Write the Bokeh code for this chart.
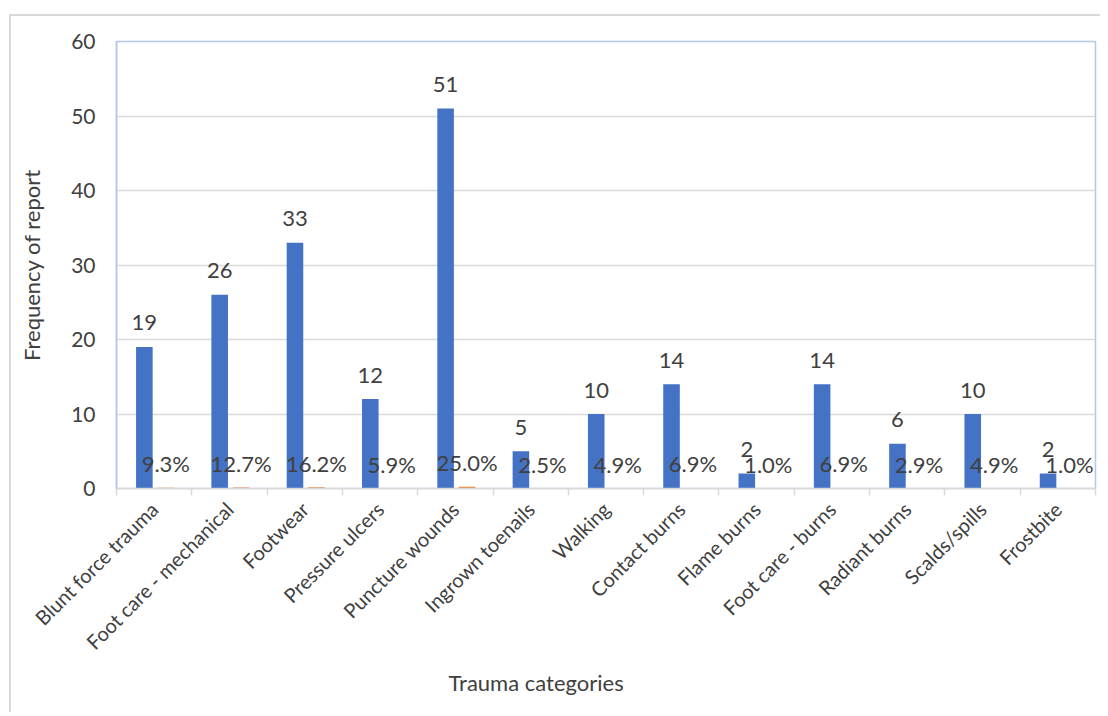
import math
from bokeh.plotting import figure
from bokeh.models import Range1d, FixedTicker, ColumnDataSource, Title
from bokeh.core.properties import value
from bokeh.embed import file_html
from bokeh.resources import INLINE

categories = ["Blunt force trauma", "Foot care - mechanical", "Footwear", "Pressure ulcers",
              "Puncture wounds", "Ingrown toenails", "Walking", "Contact burns", "Flame burns",
              "Foot care - burns", "Radiant burns", "Scalds/spills", "Frostbite"]
counts = [19, 26, 33, 12, 51, 5, 10, 14, 2, 14, 6, 10, 2]
percents = [0.093, 0.127, 0.162, 0.059, 0.250, 0.025, 0.049, 0.069, 0.010, 0.069, 0.029, 0.049, 0.010]
y_ticks = [0, 10, 20, 30, 40, 50, 60]

FONT = "Lato"
TXT = "#404040"
BLUE = "#4472C4"
ORANGE = "#ED7D31"
FS = "22px"

n = len(categories)
centers = [i + 0.5 for i in range(n)]
blue_x = [c - 0.13 for c in centers]
orange_x = [c + 0.155 for c in centers]

src_b = ColumnDataSource(dict(x=blue_x, top=counts, lab=[str(v) for v in counts]))
src_o = ColumnDataSource(dict(x=orange_x, top=percents, lab=[f"{v*100:.1f}%" for v in percents]))

p = figure(width=1100, height=712, output_backend="svg", toolbar_location=None,
           x_range=Range1d(0, n), y_range=Range1d(0, 60))
p.min_border_left = 116
p.min_border_top = 41
p.min_border_right = 5
p.min_border_bottom = 224
p.background_fill_color = "white"
p.border_fill_color = None
p.outline_line_color = "#B4C7E7"
p.outline_line_width = 1.5
p.styles = {
    "background": "linear-gradient(#D9D9D9,#D9D9D9) 9px 14px / 2px 100% no-repeat, "
                  "linear-gradient(#D9D9D9,#D9D9D9) 9px 14px / 100% 2px no-repeat, white",
}

p.vbar(x="x", top="top", bottom=0, width=0.22, source=src_b, fill_color=BLUE, line_color=None)
p.vbar(x="x", top="top", bottom=0, width=0.22, source=src_o, fill_color=ORANGE, line_color=None)

p.text(x="x", y="top", text="lab", source=src_b, text_align="center", text_baseline="alphabetic",
       y_offset=-24, text_font=value(FONT), text_font_size=FS, text_color=TXT)
p.text(x="x", y="top", text="lab", source=src_o, text_align="center", text_baseline="alphabetic",
       y_offset=-24, text_font=value(FONT), text_font_size=FS, text_color=TXT)

# grid
p.xgrid.grid_line_color = None
p.ygrid.grid_line_color = "#D9D9D9"
p.ygrid.grid_line_width = 1.5
p.ygrid.ticker = FixedTicker(ticks=y_ticks)

# y axis
ya = p.yaxis[0]
ya.ticker = FixedTicker(ticks=y_ticks)
ya.axis_line_color = "#B4C7E7"
ya.axis_line_width = 1.5
ya.major_tick_line_color = None
ya.minor_tick_line_color = None
ya.major_label_standoff = 15
ya.major_label_text_font = FONT
ya.major_label_text_font_size = "21px"
ya.major_label_text_color = TXT
ya.axis_label = "Frequency of report"
ya.axis_label_text_font = FONT
ya.axis_label_text_font_size = FS
ya.axis_label_text_font_style = "normal"
ya.axis_label_text_color = TXT
ya.axis_label_standoff = 23

# x axis
xa = p.xaxis[0]
xa.ticker = FixedTicker(ticks=centers, minor_ticks=list(range(n + 1)))
xa.major_label_overrides = {c: name for c, name in zip(centers, categories)}
xa.major_label_orientation = math.pi / 4
xa.major_tick_line_color = None
xa.minor_tick_line_color = "#D9D9D9"
xa.minor_tick_line_width = 1.5
xa.minor_tick_in = 0
xa.minor_tick_out = 7
xa.axis_line_color = "#D9D9D9"
xa.axis_line_width = 1.5
xa.major_label_standoff = 10
xa.major_label_text_font = FONT
xa.major_label_text_font_size = "20px"
xa.major_label_text_color = TXT

p.add_layout(Title(text="Trauma categories", align="left", offset=332, standoff=2,
                   text_font=FONT, text_font_size=FS, text_font_style="normal",
                   text_color=TXT), "below")

open("out.html", "w").write(file_html(p, INLINE))
